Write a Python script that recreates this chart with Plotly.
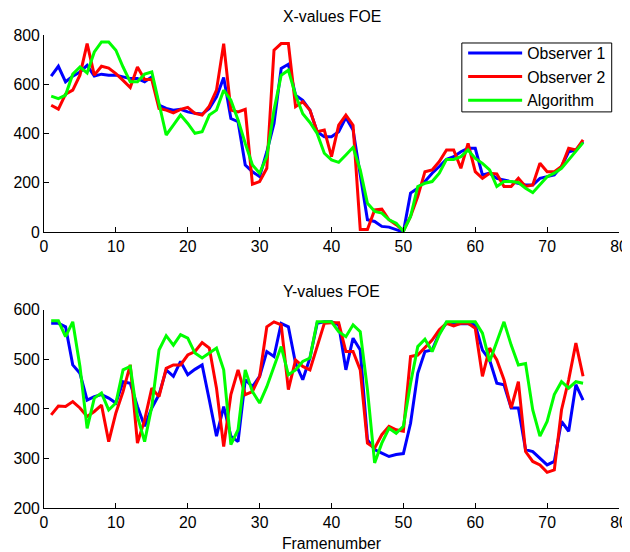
import plotly.graph_objects as go

frames = list(range(1, 76))

x_obs1 = [633, 673, 610, 633, 650, 677, 633, 641, 637, 637, 630, 623, 623, 610, 630,
          515, 502, 495, 498, 488, 482, 479, 502, 549, 627, 461, 448, 272, 245, 225,
          326, 441, 664, 681, 556, 535, 495, 407, 387, 387, 407, 465, 414, 239, 50,
          43, 23, 20, 10, 0, 158, 178, 205, 239, 266, 295, 306, 326, 340, 340,
          232, 239, 218, 212, 205, 198, 191, 191, 218, 225, 232, 266, 326, 333, 367]
x_obs2 = [515, 499, 560, 576, 637, 765, 637, 673, 666, 643, 616, 587, 670, 619, 619,
          502, 495, 484, 498, 506, 482, 475, 511, 576, 765, 495, 488, 498, 194, 205,
          259, 738, 765, 765, 509, 529, 495, 407, 414, 306, 434, 475, 434, 10, 10,
          90, 93, 50, 30, 5, 63, 144, 245, 252, 286, 333, 333, 259, 360, 245,
          218, 239, 236, 185, 185, 218, 185, 191, 279, 245, 245, 266, 340, 333, 374]
x_alg = [552, 542, 556, 641, 670, 646, 731, 772, 772, 738, 670, 610, 610, 641, 650,
         522, 394, 434, 475, 441, 401, 407, 475, 495, 576, 535, 455, 360, 272, 239,
         306, 495, 637, 657, 556, 480, 445, 400, 320, 293, 283, 313, 344, 252, 117,
         84, 77, 50, 36, 3, 63, 185, 198, 205, 239, 295, 295, 306, 333, 299,
         279, 252, 185, 205, 205, 201, 178, 160, 191, 225, 239, 259, 293, 326, 363]

y_obs1 = [573, 573, 566, 489, 472, 418, 425, 429, 422, 412, 455, 452, 405, 365, 402,
          429, 479, 466, 496, 469, 480, 489, 418, 345, 405, 345, 334, 459, 445, 466,
          516, 506, 573, 566, 492, 459, 503, 573, 576, 576, 570, 479, 543, 519, 338,
          318, 311, 304, 308, 310, 371, 472, 516, 519, 553, 574, 572, 572, 572, 570,
          519, 499, 452, 449, 402, 402, 318, 314, 301, 287, 294, 375, 355, 449, 418]
y_obs2 = [388, 406, 405, 415, 402, 385, 395, 408, 334, 392, 435, 489, 331, 378, 442,
          425, 482, 489, 489, 509, 516, 534, 523, 442, 324, 429, 479, 429, 435, 466,
          566, 576, 570, 439, 499, 486, 479, 526, 573, 574, 574, 516, 516, 479, 331,
          321, 348, 365, 358, 355, 506, 509, 523, 539, 560, 573, 568, 573, 573, 563,
          466, 523, 499, 459, 402, 455, 314, 294, 287, 272, 277, 398, 459, 533, 466]
y_alg = [578, 578, 546, 576, 486, 361, 422, 432, 398, 412, 479, 486, 385, 334, 405,
         519, 548, 529, 550, 543, 513, 503, 513, 523, 479, 328, 358, 479, 435, 412,
         445, 486, 526, 469, 479, 496, 503, 576, 576, 576, 556, 546, 570, 556, 439,
         291, 331, 361, 351, 365, 452, 526, 541, 516, 550, 576, 576, 576, 576, 576,
         553, 496, 536, 576, 529, 489, 492, 398, 345, 375, 429, 455, 442, 455, 452]

series_names = ["Observer 1", "Observer 2", "Algorithm"]
colors = ["#0000FF", "#FF0000", "#00FF00"]
x_ticks = [0, 10, 20, 30, 40, 50, 60, 70, 80]
top_ticks = [0, 200, 400, 600, 800]
bot_ticks = [200, 300, 400, 500, 600]

FONT = "Liberation Sans, Arial, sans-serif"
FS = 15.8

fig = go.Figure()
for vals, name, col in zip([x_obs1, x_obs2, x_alg], series_names, colors):
    fig.add_trace(go.Scatter(x=frames, y=vals, mode="lines", name=name,
                             line=dict(color=col, width=3), xaxis="x", yaxis="y"))
for vals, name, col in zip([y_obs1, y_obs2, y_alg], series_names, colors):
    fig.add_trace(go.Scatter(x=frames, y=vals, mode="lines", name=name, showlegend=False,
                             line=dict(color=col, width=3), xaxis="x2", yaxis="y2"))

ax_common = dict(showgrid=False, zeroline=False, showline=True, linecolor="black",
                 linewidth=1, ticks="inside", ticklen=5, tickcolor="black",
                 tickfont=dict(family=FONT, size=FS, color="black"), mirror=False,
                 automargin=False)

# the page body adds an 8px margin, so the figure is 8px smaller than the window
W, H = 622, 544
l, r, t, b = 35.5, 11, 26.7, 43.7
pw = W - l - r
ph = H - t - b
top_low = (500.3 - 224) / ph
bot_high = (500.3 - 302) / ph

def px_x(x):
    return (x - l) / pw

def px_y(y):
    return 1 - (y - t) / ph

fig.update_layout(
    width=W, height=H,
    margin=dict(l=l, r=r, t=t, b=b, autoexpand=False),
    paper_bgcolor="white", plot_bgcolor="white",
    font=dict(family=FONT, size=FS, color="black"),
    xaxis=dict(domain=[0, 1], range=[0, 80], tickvals=x_ticks, anchor="y", **ax_common),
    yaxis=dict(domain=[top_low, 1], range=[0, 800], tickvals=top_ticks, anchor="x", **ax_common),
    xaxis2=dict(domain=[0, 1], range=[0, 80], tickvals=x_ticks, anchor="y2",
                title=dict(text="Framenumber", font=dict(family=FONT, size=FS), standoff=7),
                **ax_common),
    yaxis2=dict(domain=[0, bot_high], range=[200, 600], tickvals=bot_ticks, anchor="x2", **ax_common),
    showlegend=True,
    legend=dict(x=px_x(455), y=px_y(28), xanchor="left", yanchor="top",
                borderwidth=0, bgcolor="rgba(0,0,0,0)",
                font=dict(family=FONT, size=FS, color="black"),
                itemwidth=54, tracegroupgap=0),
    shapes=[
        dict(type="rect", xref="paper", yref="paper",
             x0=px_x(453.7), x1=px_x(603.7), y0=px_y(103.7), y1=px_y(34.7),
             line=dict(color="black", width=1), fillcolor="white", layer="above"),
    ],
    annotations=[
        dict(text="X-values FOE", x=0.5, y=px_y(8.5), xref="paper", yref="paper",
             showarrow=False, xanchor="center", yanchor="middle", font=dict(family=FONT, size=FS)),
        dict(text="Y-values FOE", x=0.5, y=px_y(284), xref="paper", yref="paper",
             showarrow=False, xanchor="center", yanchor="middle", font=dict(family=FONT, size=FS)),
    ],
)

fig.write_html("out.html")
